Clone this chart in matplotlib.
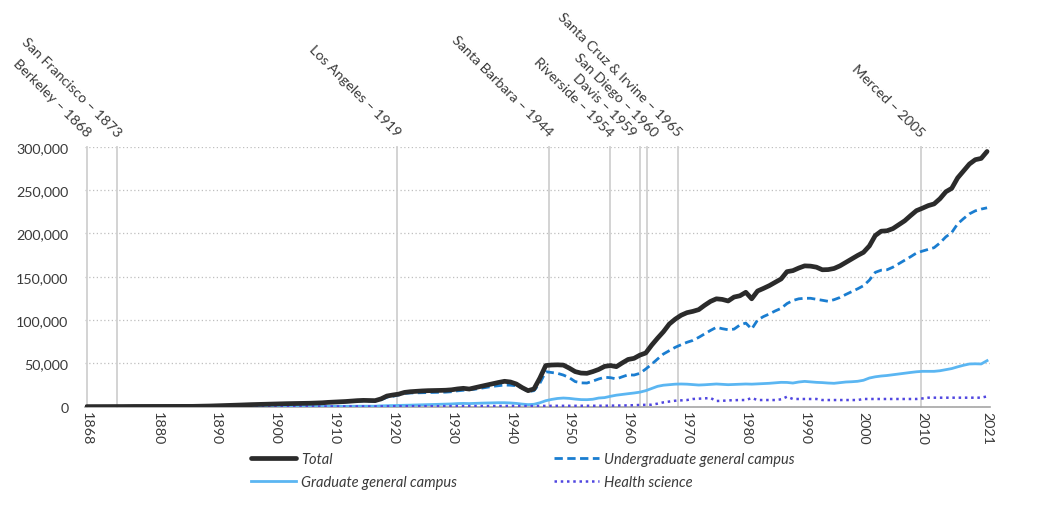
import numpy as np
import matplotlib.pyplot as plt
from matplotlib.ticker import FuncFormatter


# Fall enrollment by year, in thousands of students
years = list(range(1868, 2022))

total = [
    0.1, 0.1, 0.2, 0.2, 0.2, 0.2, 0.2, 0.3, 0.3, 0.3, 0.3, 0.3,
    0.3, 0.3, 0.3, 0.3, 0.3, 0.3, 0.4, 0.5, 0.6, 0.8,
    1.0, 1.2, 1.4, 1.6, 1.9, 2.2, 2.4, 2.6, 2.8, 3.0,
    3.3, 3.4, 3.5, 3.6, 3.7, 3.8, 4.0, 4.2, 4.5, 5.0,
    5.3, 5.6, 6.0, 6.5, 7.0, 7.3, 7.2, 7.0, 9.0, 12.3,
    13.5, 14.5, 16.5, 17.3, 17.8, 18.2, 18.5, 18.6, 18.8, 19.0,
    19.5, 20.5, 21.2, 20.4, 22.0, 23.5, 25.0, 26.5, 28.0, 29.3,
    28.5, 26.2, 22.0, 18.5, 20.5, 33.0, 47.5, 48.1, 48.3, 48.0,
    44.5, 40.5, 38.8, 38.5, 40.5, 43.0, 46.5, 47.5, 46.2, 50.5,
    54.5, 55.8, 59.5, 62.0, 71.0, 79.0, 86.5, 95.4, 101.0, 105.5,
    108.5, 110.0, 112.0, 117.0, 121.5, 124.5, 123.8, 122.0, 126.5, 128.0,
    132.0, 124.5, 133.5, 136.5, 139.7, 143.5, 147.4, 155.8, 157.0, 160.0,
    162.5, 162.2, 161.0, 158.0, 158.2, 159.5, 162.5, 166.5, 170.5, 174.5,
    178.1, 185.5, 197.5, 202.5, 203.0, 205.5, 210.0, 214.5, 220.5, 226.2,
    229.0, 232.0, 234.0, 240.0, 248.0, 252.0, 264.0, 272.0, 280.0, 285.0,
    286.5, 294.5,
]

undergrad = [
    0.1, 0.1, 0.2, 0.2, 0.2, 0.2, 0.2, 0.3, 0.3, 0.3, 0.3, 0.3,
    0.3, 0.3, 0.3, 0.3, 0.3, 0.3, 0.4, 0.5, 0.6, 0.7,
    0.9, 1.1, 1.3, 1.5, 1.7, 2.0, 2.2, 2.4, 2.6, 2.8,
    3.0, 3.1, 3.2, 3.3, 3.4, 3.5, 3.7, 3.9, 4.2, 4.6,
    4.9, 5.2, 5.5, 6.0, 6.4, 6.7, 6.6, 6.4, 8.0, 10.8,
    12.0, 13.5, 15.4, 15.8, 16.0, 16.2, 16.4, 16.5, 16.6, 16.8,
    17.3, 18.3, 19.0, 19.6, 20.2, 21.3, 22.5, 23.5, 24.3, 25.0,
    24.8, 24.2, 21.5, 17.3, 18.5, 27.0, 40.4, 39.5, 38.5, 36.5,
    33.5, 29.0, 27.5, 27.3, 29.5, 32.0, 33.9, 33.5, 32.0, 34.5,
    36.8, 36.5, 38.5, 43.5, 49.0, 55.0, 60.8, 64.6, 68.5, 71.5,
    74.3, 76.5, 80.0, 84.0, 88.0, 91.6, 90.0, 88.8, 89.5, 94.3,
    96.5, 89.6, 100.0, 104.0, 107.0, 110.5, 113.5, 119.0, 122.5, 124.5,
    125.1, 125.1, 124.0, 122.8, 121.6, 123.5, 126.0, 129.5, 132.7, 136.0,
    139.6, 146.0, 155.0, 157.5, 158.0, 161.0, 165.0, 169.0, 173.0, 177.3,
    179.5, 181.5, 183.5, 189.0, 196.0, 201.0, 211.0, 217.0, 222.5, 226.0,
    228.0, 229.5,
]

graduate = [
    0.0, 0.0, 0.0, 0.0, 0.0, 0.0, 0.0, 0.0, 0.0, 0.0, 0.0, 0.0,
    0.0, 0.0, 0.0, 0.0, 0.0, 0.0, 0.0, 0.0, 0.0, 0.1,
    0.1, 0.1, 0.1, 0.1, 0.2, 0.2, 0.2, 0.2, 0.2, 0.2,
    0.3, 0.3, 0.3, 0.3, 0.3, 0.3, 0.3, 0.3, 0.3, 0.4,
    0.4, 0.4, 0.5, 0.5, 0.6, 0.6, 0.6, 0.6, 1.0, 1.2,
    1.3, 1.5, 1.6, 1.8, 2.0, 2.2, 2.4, 2.6, 2.8, 3.0,
    3.2, 3.6, 3.8, 3.6, 3.9, 4.1, 4.3, 4.5, 4.6, 4.6,
    4.3, 3.8, 3.0, 2.4, 2.8, 4.5, 6.9, 8.4, 9.5, 10.0,
    9.6, 8.8, 8.2, 8.1, 8.6, 10.0, 10.5, 12.0, 13.3, 14.2,
    15.0, 15.8, 16.8, 18.5, 21.0, 23.5, 24.8, 25.4, 26.0, 26.2,
    26.0, 25.5, 25.0, 25.3, 25.8, 26.2, 25.8, 25.4, 25.7, 26.0,
    26.2, 26.0, 26.3, 26.5, 27.0, 27.5, 28.1, 28.0, 27.3, 28.5,
    29.2, 28.6, 28.1, 27.8, 27.3, 27.0, 27.8, 28.5, 28.8, 29.3,
    30.5, 33.1, 34.5, 35.4, 36.0, 36.9, 37.7, 38.8, 39.5, 40.3,
    40.8, 40.8, 40.8, 41.5, 42.8, 44.0, 46.0, 47.8, 49.3, 49.5,
    49.3, 53.1,
]

health = [
    0.0, 0.0, 0.0, 0.0, 0.0, 0.0, 0.0, 0.0, 0.0, 0.0, 0.0, 0.0,
    0.0, 0.0, 0.0, 0.0, 0.0, 0.0, 0.0, 0.0, 0.0, 0.0,
    0.0, 0.0, 0.0, 0.0, 0.1, 0.1, 0.1, 0.1, 0.1, 0.1,
    0.2, 0.2, 0.2, 0.2, 0.2, 0.2, 0.2, 0.2, 0.2, 0.2,
    0.3, 0.3, 0.3, 0.3, 0.3, 0.3, 0.3, 0.3, 0.4, 0.4,
    0.5, 0.5, 0.5, 0.5, 0.6, 0.6, 0.6, 0.6, 0.7, 0.7,
    0.7, 0.7, 0.7, 0.7, 0.8, 0.8, 0.8, 0.8, 0.8, 0.9,
    0.9, 0.9, 0.8, 0.7, 0.8, 0.9, 1.0, 1.0, 1.0, 1.0,
    1.0, 1.0, 1.0, 1.0, 1.0, 1.1, 1.1, 1.2, 1.2, 1.3,
    1.5, 1.8, 2.0, 2.2, 2.3, 3.5, 5.0, 6.0, 6.9, 7.3,
    7.7, 8.9, 9.2, 9.6, 10.0, 6.6, 6.8, 7.3, 7.5, 7.7,
    7.7, 10.0, 7.7, 7.7, 7.7, 7.7, 8.5, 11.5, 8.9, 8.9,
    8.9, 8.9, 8.9, 7.7, 7.7, 7.7, 7.7, 7.7, 7.7, 7.7,
    8.9, 8.9, 8.9, 8.9, 8.9, 8.9, 8.9, 8.9, 8.9, 8.9,
    9.5, 10.4, 10.4, 10.4, 10.4, 10.4, 10.4, 10.4, 10.4, 10.4,
    10.4, 11.9,
]

# Campus founding markers: label text and where the grey line sits on the chart
campus_labels = [
    "Berkeley \u2013 1868", "San Francisco \u2013 1873", "Los Angeles \u2013 1919",
    "Santa Barbara \u2013 1944", "Riverside \u2013 1954", "Davis \u2013 1959",
    "San Diego \u2013 1960", "Santa Cruz & Irvine \u2013 1965", "Merced \u2013 2005",
]
campus_line_x = [1868.0, 1873.2, 1920.7, 1946.6, 1956.9, 1962.0, 1963.2, 1968.4, 2009.7]

tick_years = [1868, 1880, 1890, 1900, 1910, 1920, 1930, 1940, 1950,
              1960, 1970, 1980, 1990, 2000, 2010, 2021]

TEXT = "#3a3a3a"


def plot_enrollment():
    plt.rcParams['font.family'] = ['Lato', 'DejaVu Sans']

    fig = plt.figure(figsize=(10.64, 5.06), dpi=100)
    ax = fig.add_axes([85 / 1064, 1 - 407.7 / 506, 905 / 1064, 260 / 506])

    x = np.array(years)
    k = 1000.0

    ax.plot(x, np.array(total) * k, color="#2b2b2b", lw=3.4,
            solid_capstyle="round", label="Total", zorder=5)
    ax.plot(x, np.array(undergrad) * k, color="#1a7dd0", lw=2.0,
            dashes=(3, 1.6), label="Undergraduate general campus", zorder=4)
    ax.plot(x, np.array(graduate) * k, color="#5bb6f2", lw=2.0,
            label="Graduate general campus", zorder=3)
    ax.plot(x, np.array(health) * k, color="#5046e0", lw=1.8,
            linestyle=(0, (1, 1.5)), label="Health science", zorder=3)

    # grey founding lines with rotated labels above the plot
    nudge = {"Davis \u2013 1959": -5, "San Diego \u2013 1960": 5}
    for name, xv in zip(campus_labels, campus_line_x):
        ax.plot([xv, xv], [0, 300000], color="#d0d0d0", lw=1.3, zorder=1,
                clip_on=False)
        ax.annotate(name, xy=(xv, 300000), xytext=(1 + nudge.get(name, 0), 9),
                    textcoords="offset points", rotation=-45,
                    rotation_mode="anchor", ha="right", va="center",
                    fontsize=10.3, color=TEXT, annotation_clip=False)

    ax.set_xlim(1867.7, 2021.5)
    ax.set_ylim(0, 300000)
    ax.set_yticks(np.arange(0, 300001, 50000))
    ax.yaxis.set_major_formatter(FuncFormatter(lambda v, p: f"{int(v):,}"))
    ax.set_xticks(tick_years)
    ax.set_xticklabels([str(t) for t in tick_years], rotation=270)

    ax.grid(axis="y", color="#bfbfbf", lw=0.9, linestyle=(0, (1, 2)))
    ax.set_axisbelow(True)
    for side in ["top", "right", "left"]:
        ax.spines[side].set_visible(False)
    ax.spines["bottom"].set_color("#a6a6a6")
    ax.spines["bottom"].set_linewidth(1.2)
    ax.tick_params(axis="y", length=0, pad=12, labelsize=10.3, labelcolor=TEXT)
    ax.tick_params(axis="x", length=0, pad=3, labelsize=10.3, labelcolor=TEXT)

    # legend: two columns, order so rows read Total / Undergrad, Graduate / Health
    handles, labels = ax.get_legend_handles_labels()
    order = [0, 2, 1, 3]
    fig.legend([handles[i] for i in order], [labels[i] for i in order],
               loc="upper left", bbox_to_anchor=(251 / 1064, 1 - 453 / 506),
               ncol=2, frameon=False, borderpad=0, borderaxespad=0,
               handlelength=3.1, handletextpad=0.35, columnspacing=6.6,
               labelspacing=0.65, labelcolor=TEXT,
               prop={"style": "italic", "size": 10.5})

    fig.savefig("out.png", dpi=100)


def main():
    plot_enrollment()


if __name__ == "__main__":
    main()
